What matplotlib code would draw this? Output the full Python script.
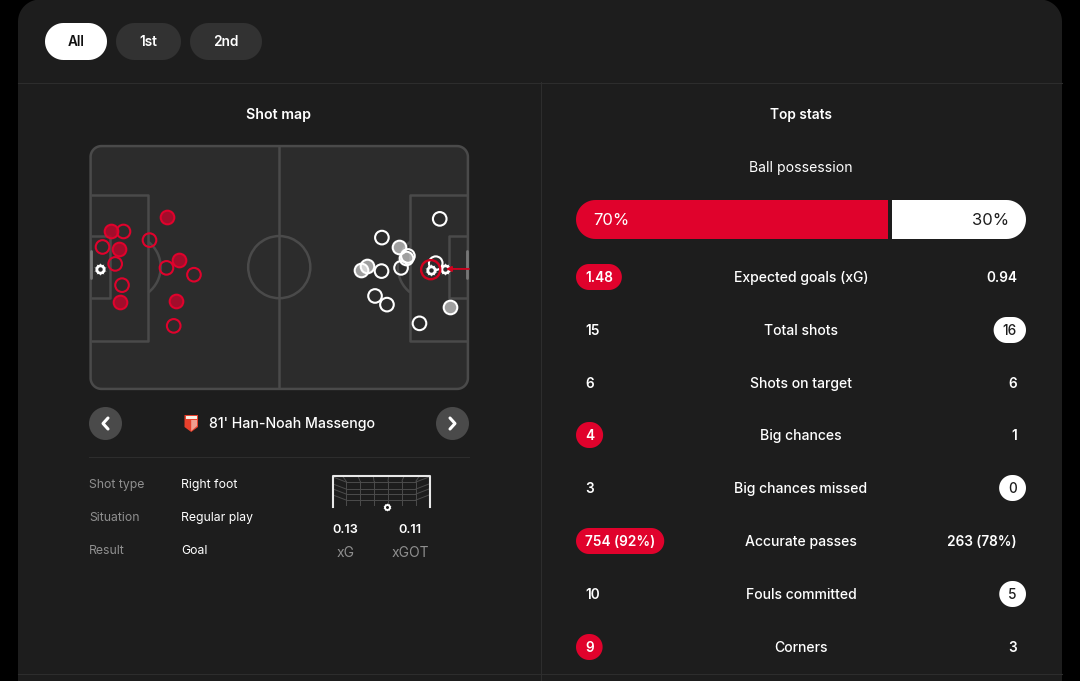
import numpy as np
import matplotlib
matplotlib.use("Agg")
import matplotlib.pyplot as plt
from matplotlib.patches import Rectangle, Circle, Arc, Polygon

FONT = "Inter"
BG, CARD, PITCH, LINE, CHIP = "#000000", "#1d1d1d", "#2c2c2c", "#4a4a4a", "#323232"
RED, WHITE, GREY = "#e0022c", "#ffffff", "#8f8f8f"

periods = ["All", "1st", "2nd"]
stat_labels = ["Expected goals (xG)", "Total shots", "Shots on target", "Big chances",
               "Big chances missed", "Accurate passes", "Fouls committed", "Corners"]
home_values = ["1.48", "15", "6", "4", "3", "754 (92%)", "10", "9"]
away_values = ["0.94", "16", "6", "1", "0", "263 (78%)", "5", "3"]
leaders = ["home", "away", None, "home", "away", "home", "away", "home"]
possession = [70, 30]

home_saved_x = [21.4, 6.0, 8.1, 24.8, 24.0, 8.4]
home_saved_y = [19.9, 24.0, 29.0, 31.8, 43.3, 43.5]
home_miss_x = [9.4, 3.6, 16.6, 7.1, 21.3, 28.9, 9.0, 23.3]
home_miss_y = [24.0, 28.3, 26.4, 33.0, 34.1, 36.0, 38.9, 50.2]
home_goal_x = [3.0]
home_goal_y = [34.4]
away_miss_x = [96.9, 80.9, 88.1, 86.2, 80.8, 79.0, 82.3, 91.3, 95.8]
away_miss_y = [20.5, 25.7, 30.8, 34.1, 35.0, 41.9, 44.3, 49.5, 32.8]
away_saved_x = [85.5, 87.7, 76.7, 75.0, 99.7]
away_saved_y = [28.3, 31.4, 33.5, 34.6, 45.0]
away_goal_x = [98.3, 94.4]
away_goal_y = [34.4, 34.6]

detail_labels = ["Shot type", "Situation", "Result"]
detail_values = ["Right foot", "Regular play", "Goal"]
shot_xg = ["0.13", "0.11"]
shot_xg_labels = ["xG", "xGOT"]

fig = plt.figure(figsize=(10.8, 6.81), dpi=100, facecolor=BG)
ax = fig.add_axes([0, 0, 1, 1])
ax.set_xlim(0, 1080); ax.set_ylim(681, 0); ax.axis("off")


def pill_pts(x0, y0, x1, y1, r, ry=None):
    ry = r if ry is None else ry
    pts = []
    for cx, cy, t0 in [(x1 - r, y0 + ry, -90), (x1 - r, y1 - ry, 0), (x0 + r, y1 - ry, 90), (x0 + r, y0 + ry, 180)]:
        t = np.radians(np.linspace(t0, t0 + 90, 16))
        pts.append(np.c_[cx + r * np.cos(t), cy + ry * np.sin(t)])
    return np.vstack(pts)


def pill(a, x0, y0, x1, y1, r, ry=None, **kw):
    p = Polygon(pill_pts(x0, y0, x1, y1, r, ry), closed=True, **kw)
    a.add_patch(p)
    return p


def label(a, x, y, s, size=10.1, color=WHITE, weight="normal", ha="center"):
    return a.text(x, y + size * 0.49, s, fontsize=size, color=color, fontweight=weight, ha=ha,
                  va="baseline", family=FONT)


# card
pill(ax, 18, -0.5, 1062, 740, 22, fc=CARD, ec="none", lw=0)
SEP = "#2d2d2d"
ax.plot([18, 1062], [82.5, 82.5], color=SEP, lw=0.8)
ax.plot([540.5, 540.5], [82, 681], color=SEP, lw=0.8)
ax.plot([18, 1062], [673.5, 673.5], color=SEP, lw=0.8)

# period chips
chips = [(45, 107), (116, 181), (190, 262)]
for i, (name, (a, b)) in enumerate(zip(periods, chips)):
    pill(ax, a, 23, b, 60, 18.5, fc=WHITE if i == 0 else CHIP, ec="none", lw=0)
    label(ax, (a + b) / 2, 41, name, color="#111111" if i == 0 else WHITE, size=9.8, weight="semibold")

label(ax, 279, 114, "Shot map", weight="semibold", size=10.2)
label(ax, 801, 114, "Top stats", weight="semibold", size=9.9)
label(ax, 801, 167, "Ball possession")

# pitch
pa = fig.add_axes([89.5 / 1080, 1 - 390 / 681, 379.5 / 1080, 245 / 681])
pa.set_xlim(0, 105); pa.set_ylim(68, 0); pa.axis("off")
sx, sy = 379.5 / 105, 245 / 68
pill(pa, 0.3, 0.3, 104.7, 67.7, 3.0, 3.0 * sx / sy, fc=PITCH, ec=LINE, lw=1.8, zorder=1, clip_on=False)
lk = dict(color=LINE, lw=1.8, solid_capstyle="butt", solid_joinstyle="round", zorder=1.2)
pa.plot([52.5, 52.5], [0.3, 67.7], **lk)
pa.add_patch(Arc((52.5, 33.9), 17.2, 17.2 * sx / sy, ec=LINE, lw=1.8, zorder=1.2))
for x0, d in [(0.3, 1), (104.7, -1)]:
    pa.plot([x0, x0 + d * 16, x0 + d * 16, x0], [14, 14, 54.3, 54.3], **lk)
    pa.plot([x0, x0 + d * 5.3, x0 + d * 5.3, x0], [25.2, 25.2, 42.6, 42.6], **lk)
    pa.add_patch(Arc((x0 + d * 10.5, 33.9), 17.8, 17.8 * sx / sy, theta1=-52 if d > 0 else 128,
                     theta2=52 if d > 0 else 232, ec=LINE, lw=1.8, zorder=1.2))
    pa.plot([x0 + d * 0.2] * 2, [29.5, 37], color="#777777", lw=2, zorder=1.3, solid_capstyle="round")


def ball(a, x, y, size, bgc, z=6):
    a.scatter(x, y, s=size, c=WHITE, marker=(10, 1, 0), lw=0, zorder=z)
    a.scatter(x, y, s=size * 0.62, c=WHITE, marker="o", lw=0, zorder=z)
    a.scatter(x, y, s=size * 0.12, c=bgc, marker="o", lw=0, zorder=z + 1)


ms = 96
pa.scatter(home_miss_x, home_miss_y, s=ms, fc="none", ec=RED, lw=1.5, zorder=3)
pa.scatter(home_saved_x, home_saved_y, s=ms, fc=(0.72, 0.03, 0.17, 0.85), ec=RED, lw=1.5, zorder=3)
pa.scatter(away_miss_x, away_miss_y, s=ms, fc="none", ec=WHITE, lw=1.5, zorder=3)
pa.scatter(away_saved_x, away_saved_y, s=ms, fc=(1, 1, 1, 0.55), ec=WHITE, lw=1.5, zorder=3)
ball(pa, home_goal_x, home_goal_y, 85, PITCH)
ball(pa, away_goal_x, away_goal_y, 85, PITCH)
pa.scatter(away_goal_x[-1:], away_goal_y[-1:], s=190, fc="none", ec="#d2021f", lw=1.7, zorder=8)
pa.annotate("", xy=(away_goal_x[0] + 0.3, away_goal_y[0]), xytext=(105, away_goal_y[0]), zorder=9,
            arrowprops=dict(arrowstyle="-|>,head_width=0.15,head_length=0.3", color="#d2021f", lw=1.3, shrinkA=0, shrinkB=0))

# shot nav
for cx, d in [(105.5, -1), (452.5, 1)]:
    ax.add_patch(Circle((cx, 423.5), 16.5, fc="#4a4a4a", ec="none"))
    ax.plot([cx - d * 2.5, cx + d * 2.5, cx - d * 2.5], [418, 423.5, 429], color=WHITE, lw=2.2,
            solid_capstyle="round", solid_joinstyle="round")
ax.add_patch(Polygon([(184.5, 415), (198, 415), (198, 427), (191.2, 432), (184.5, 427)], fc="#e8402c", ec="none"))
ax.add_patch(Rectangle((185.5, 415.5), 11.5, 3.8, fc="#f5efe4", ec="none"))
ax.add_patch(Polygon([(191.2, 420), (197, 420), (197, 426), (191.2, 431)], fc="#f5efe4", ec="none", alpha=0.55))
label(ax, 209, 423.5, "81' Han-Noah Massengo", ha="left", size=10.2, weight="medium")
ax.plot([89, 469], [456.5, 456.5], color=SEP, lw=0.8)

for y, k, v in zip([484, 517, 550], detail_labels, detail_values):
    label(ax, 89, y, k, color=GREY, size=8.8, ha="left")
    label(ax, 181, y, v, size=8.8, ha="left")

# goal frame
NET = "#4c4c4c"
for x in np.linspace(346, 416, 6):
    ax.plot([x, x], [481, 505], color=NET, lw=0.7)
    ax.plot([x, 381 + (x - 381) * 1.1], [481, 476], color=NET, lw=0.7)
for y in [482, 489, 494, 500]:
    ax.plot([346, 416], [y, y], color=NET, lw=0.7)
    ax.plot([333, 346], [y - 5, y], color=NET, lw=0.7)
    ax.plot([416, 429], [y, y - 5], color=NET, lw=0.7)
ax.plot([333, 333, 429.5, 429.5], [507, 475.5, 475.5, 507], color="#e8e8e8", lw=1.5, solid_joinstyle="round")
ball(ax, [387], [506.7], 40, CARD)
for x, v, n in zip([345.5, 410], shot_xg, shot_xg_labels):
    label(ax, x, 528.5, v, weight="semibold", size=9.2)
    label(ax, x, 552, n, color=GREY, size=10)

# possession bar
ba = fig.add_axes([576 / 1080, 1 - 239 / 681, 450 / 1080, 39 / 681])
ba.set_xlim(0, 450); ba.set_ylim(0, 39); ba.axis("off")
gap = 4
scale = (450 - gap) / sum(possession)
clip = pill(ba, 0, 0, 450, 39, 19.5, fc="none", ec="none")
b1 = ba.barh(19.5, possession[0] * scale, height=39, left=0, color=RED)[0]
b2 = ba.barh(19.5, possession[1] * scale, height=39, left=possession[0] * scale + gap, color=WHITE)[0]
b1.set_clip_path(clip); b2.set_clip_path(clip)
ba.text(17.5, 14, f"{possession[0]}%", ha="left", va="baseline", fontsize=12, color=WHITE, family=FONT)
ba.text(433.5, 14, f"{possession[1]}%", ha="right", va="baseline", fontsize=12, color="#1d1d1d", family=FONT)

# stat rows
row_y = [277, 330, 383, 435, 488, 541, 594, 647]
VS = 9.8
fig.canvas.draw()
rend = fig.canvas.get_renderer()
for y, name, h, a, lead in zip(row_y, stat_labels, home_values, away_values, leaders):
    label(ax, 801, y, name, weight="medium")
    th = label(ax, 585, y, h, weight="semibold", ha="left", size=VS)
    ta = label(ax, 1017, y, a, weight="semibold", ha="right", size=VS)
    if lead == "home":
        w = max(th.get_window_extent(rend).width + 18, 26)
        pill(ax, 576, y - 13, 576 + w, y + 13, 13, fc=RED, ec="none", lw=0, zorder=1.5)
        th.set_position((576 + w / 2, y + VS * 0.49)); th.set_ha("center"); th.set_zorder(3)
    if lead == "away":
        w = max(ta.get_window_extent(rend).width + 18, 26)
        pill(ax, 1026 - w, y - 13, 1026, y + 13, 13, fc=WHITE, ec="none", lw=0, zorder=1.5)
        ta.set_position((1026 - w / 2, y + VS * 0.49)); ta.set_ha("center"); ta.set_color("#1d1d1d"); ta.set_zorder(3)
        ta.set_fontweight("medium")

fig.savefig("out.png", dpi=100, facecolor=BG)
